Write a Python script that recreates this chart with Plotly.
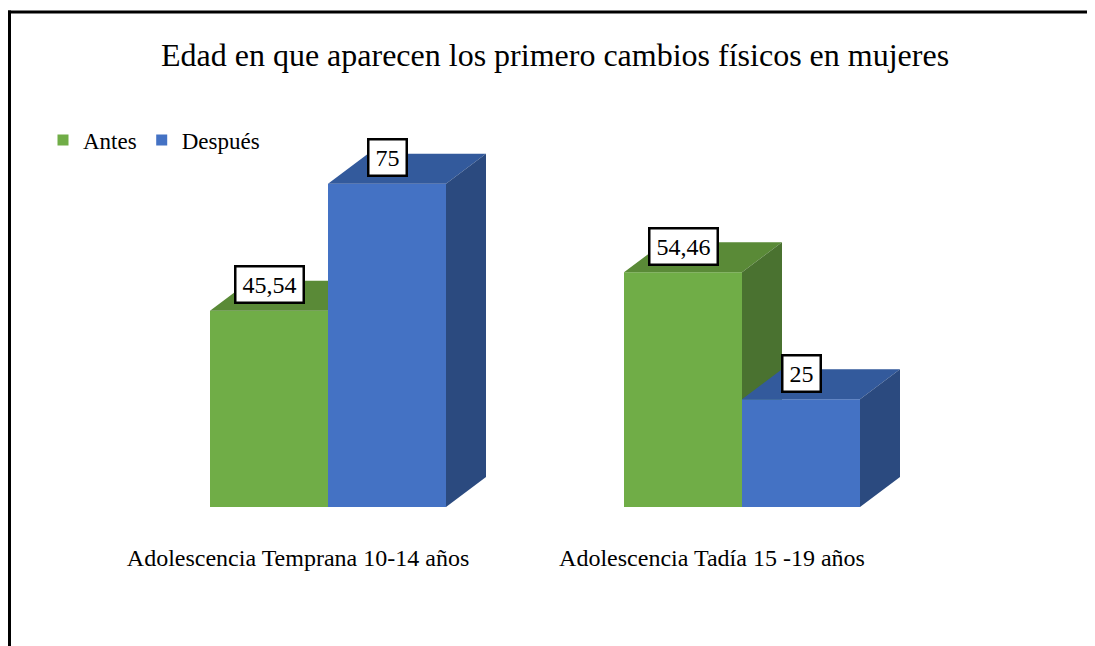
import plotly.graph_objects as go

# ---------------- data ----------------
categories = ["Adolescencia Temprana 10-14 años", "Adolescencia Tadía 15 -19 años"]
series_names = ["Antes", "Después"]
antes = [45.54, 54.46]
despues = [75, 25]
title_text = "Edad en que aparecen los primero cambios físicos en mujeres"

# ---------------- style ----------------
FONT = "Liberation Serif"
OFF = 8  # default page margin of the html body
W, H = 1095 - OFF, 646 - OFF
ML, MR, MT, MB = 113, 146, 92, 139
PLOT_W = W - ML - MR
PLOT_H = H - MT - MB
X_RANGE = [-0.5, 1.5]
PX_PER_UNIT = 4.31
Y_RANGE = [0, PLOT_H / PX_PER_UNIT]
PX_PER_X = PLOT_W / (X_RANGE[1] - X_RANGE[0])
BAR_W = 118 / PX_PER_X
DX = 40 / PX_PER_X
DY = 30 / PX_PER_UNIT

colors = {
    "Antes": {"front": "#70AD47", "top": "#5A8A37", "side": "#4A7230"},
    "Después": {"front": "#4472C4", "top": "#335A9C", "side": "#2B4A7F"},
}


def box_faces(lefts, values):
    faces = {"front": ([], []), "top": ([], []), "side": ([], [])}
    for x0, h in zip(lefts, values):
        x1 = x0 + BAR_W
        fx, fy = faces["front"]
        fx += [x0, x1, x1, x0, x0, None]
        fy += [0, 0, h, h, 0, None]
        tx, ty = faces["top"]
        tx += [x0, x1, x1 + DX, x0 + DX, x0, None]
        ty += [h, h, h + DY, h + DY, h, None]
        sx, sy = faces["side"]
        sx += [x1, x1 + DX, x1 + DX, x1, x1, None]
        sy += [0, DY, h + DY, h, 0, None]
    return faces


def fmt(v):
    return f"{v:g}".replace(".", ",")


def label_width(s):
    # approximate text width for 24px serif digits / comma, plus a little room
    return sum(6 if c == "," else 12 for c in s) + 4


fig = go.Figure()
idx = list(range(len(categories)))
series = [
    ("Antes", antes, [i - BAR_W for i in idx]),
    ("Después", despues, [i for i in idx]),
]

for name, vals, lefts in series:
    faces = box_faces(lefts, vals)
    for face in ["front", "top", "side"]:
        fx, fy = faces[face]
        fig.add_trace(go.Scatter(
            x=fx, y=fy, mode="lines", fill="toself",
            fillcolor=colors[name][face], line=dict(width=0, color=colors[name][face]),
            hoverinfo="skip", showlegend=False,
        ))

# legend entries
for name, vals, lefts in series:
    fig.add_trace(go.Scatter(
        x=[None], y=[None], mode="markers", name=name,
        marker=dict(symbol="square", size=11, color=colors[name]["front"]),
    ))

# value labels
for name, vals, lefts in series:
    for x0, v in zip(lefts, vals):
        txt = fmt(v)
        fig.add_annotation(
            x=x0 + BAR_W / 2, y=v, xref="x", yref="y",
            text=txt, showarrow=False, yshift=26,
            width=label_width(txt),
            font=dict(family=FONT, size=24, color="black"),
            bgcolor="white", bordercolor="black", borderwidth=2.5, borderpad=4,
            xanchor="center", yanchor="middle", align="center",
        )


def px_to_paper_x(px):
    return (px - ML) / PLOT_W


def px_to_paper_y(py):
    return (H - MB - py) / PLOT_H


# outer frame (top and left edges visible)
fig.add_shape(type="line", xref="paper", yref="paper",
              x0=px_to_paper_x(0), x1=px_to_paper_x(W + 10),
              y0=px_to_paper_y(4), y1=px_to_paper_y(4),
              line=dict(color="black", width=3))
fig.add_shape(type="line", xref="paper", yref="paper",
              x0=px_to_paper_x(1.5), x1=px_to_paper_x(1.5),
              y0=px_to_paper_y(2.5), y1=px_to_paper_y(H + 10),
              line=dict(color="black", width=3))

fig.update_layout(
    width=W, height=H,
    margin=dict(l=ML, r=MR, t=MT, b=MB),
    paper_bgcolor="white", plot_bgcolor="white",
    title=dict(text=title_text, x=(555 - OFF) / W, xref="container", xanchor="center",
               y=1 - (55 - OFF) / H, yref="container", yanchor="middle",
               font=dict(family=FONT, size=32, color="black")),
    legend=dict(orientation="h", x=px_to_paper_x(35), y=px_to_paper_y(132),
                xanchor="left", yanchor="middle",
                font=dict(family=FONT, size=23, color="black"),
                bgcolor="rgba(0,0,0,0)", itemwidth=30, traceorder="normal"),
    showlegend=True,
    xaxis=dict(range=X_RANGE, tickvals=idx, ticktext=categories,
               tickfont=dict(family=FONT, size=24, color="black"),
               showgrid=False, zeroline=False, showline=False, ticks="",
               ticklabelshift=-30, ticklabelstandoff=34, automargin=False,
               fixedrange=True),
    yaxis=dict(range=Y_RANGE, showgrid=False, zeroline=False, showline=False,
               showticklabels=False, ticks="", automargin=False, fixedrange=True),
)

fig.write_html("out.html")
